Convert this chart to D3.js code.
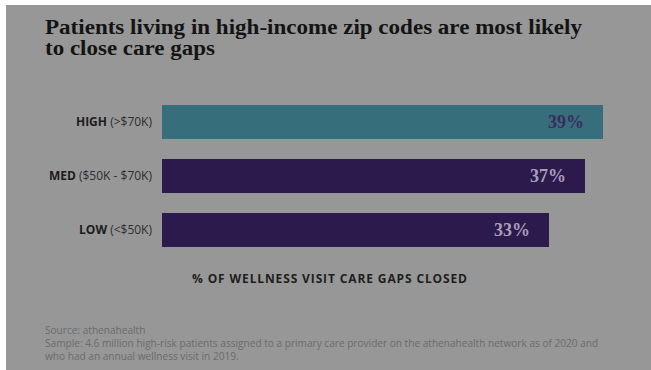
<!DOCTYPE html>
<html>
<head>
<meta charset="utf-8">
<script src="https://cdn.jsdelivr.net/npm/d3@7"></script>
<style>
  html, body { margin: 0; padding: 0; background: #ffffff; }
  svg { display: block; }
</style>
</head>
<body>
<svg id="chart"></svg>
<script>
const categories = ["HIGH", "MED", "LOW"];
const ranges = ["(>$70K)", "($50K - $70K)", "(<$50K)"];
const values = [39, 37, 33];
const valueLabels = ["39%", "37%", "33%"];
const titleLines = ["Patients living in high-income zip codes are most likely", "to close care gaps"];
const axisTitle = "% OF WELLNESS VISIT CARE GAPS CLOSED";
const notes = [
  "Source: athenahealth",
  "Sample: 4.6 million high-risk patients assigned to a primary care provider on the athenahealth network as of 2020 and",
  "who had an annual wellness visit in 2019."
];

const width = 651;
const height = 370;
const barLeft = 162;

const svg = d3.select('#chart')
  .attr('width', width)
  .attr('height', height);

// dimmed panel
svg.append('rect')
   .attr('x', 6).attr('y', 5)
   .attr('width', width - 6).attr('height', height - 5)
   .attr('fill', '#979797');

// title
const titleWidths = [537, 170];
svg.append('g')
   .selectAll('text')
   .data(titleLines)
   .enter()
   .append('text')
   .attr('x', 45)
   .attr('y', (d, i) => 34 + i * 21)
   .attr('font-family', 'Liberation Serif, serif')
   .attr('font-weight', 'bold')
   .attr('font-size', 20.5)
   .attr('fill', '#141414')
   .attr('textLength', (d, i) => titleWidths[i])
   .attr('lengthAdjust', 'spacingAndGlyphs')
   .text(d => d);

// the bars do not start at zero in the original
const xScale = d3.scaleLinear()
  .domain([-10, 40])
  .range([barLeft, barLeft + 450]);

const yScale = d3.scaleBand()
  .domain(categories)
  .range([105, 247])
  .paddingInner(20 / 54)
  .paddingOuter(0);

const rows = svg.append('g')
  .selectAll('g')
  .data(categories)
  .enter()
  .append('g');

rows.append('rect')
    .attr('x', xScale(-10))
    .attr('y', d => yScale(d))
    .attr('width', (d, i) => xScale(values[i]) - xScale(-10))
    .attr('height', yScale.bandwidth())
    .attr('fill', (d, i) => i == 0 ? '#366f7b' : '#2d1a4c');

rows.append('text')
    .attr('x', (d, i) => xScale(values[i]) - 19)
    .attr('y', d => yScale(d) + yScale.bandwidth() / 2 + 6)
    .attr('text-anchor', 'end')
    .attr('font-family', 'Liberation Serif, serif')
    .attr('font-weight', 'bold')
    .attr('font-size', 18)
    .attr('fill', (d, i) => i == 0 ? '#3b2a62' : '#a89dbb')
    .text((d, i) => valueLabels[i]);

const catText = rows.append('text')
    .attr('x', 152)
    .attr('y', d => yScale(d) + yScale.bandwidth() / 2 + 4)
    .attr('text-anchor', 'end')
    .attr('font-family', 'Open Sans, sans-serif')
    .attr('font-size', 12)
    .attr('fill', '#1c1c1c');

catText.append('tspan')
    .attr('font-weight', 'bold')
    .text(d => d + ' ');
catText.append('tspan')
    .attr('fill', '#2e2e2e')
    .text((d, i) => ranges[i]);

// axis title
svg.append('text')
   .attr('x', 192)
   .attr('y', 283)
   .attr('font-family', 'Open Sans, sans-serif')
   .attr('font-weight', 'bold')
   .attr('font-size', 12)
   .attr('fill', '#1e1e1e')
   .attr('textLength', 275)
   .attr('lengthAdjust', 'spacing')
   .text(axisTitle);

// source notes
svg.append('g')
   .selectAll('text')
   .data(notes)
   .enter()
   .append('text')
   .attr('x', 45)
   .attr('y', (d, i) => 334 + i * 12.8)
   .attr('font-family', 'Open Sans, sans-serif')
   .attr('font-size', 10.1)
   .attr('fill', '#6b6b6b')
   .text(d => d);
</script>
</body>
</html>
